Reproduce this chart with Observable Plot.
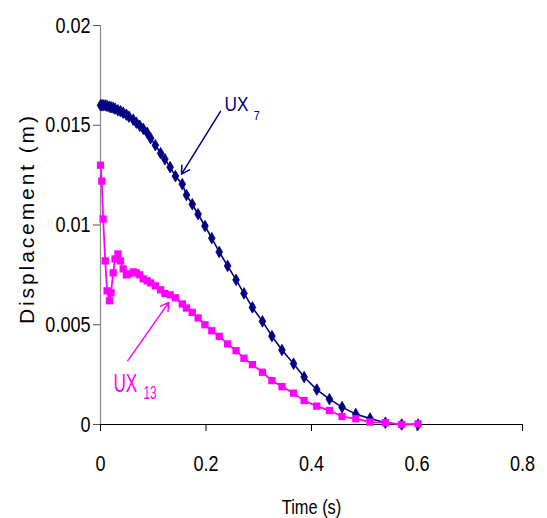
<!DOCTYPE html>
<html>
<head>
<meta charset="utf-8">
<script src="https://cdn.jsdelivr.net/npm/d3@7"></script>
<script src="https://cdn.jsdelivr.net/npm/@observablehq/plot@0.6"></script>
<style>
  html, body { margin: 0; padding: 0; background: white; }
</style>
</head>
<body>
<div id="chart"></div>
<script>
// Time (s), shared by both series
const time = [0, 0.0025, 0.005, 0.009, 0.0125, 0.017, 0.020, 0.024, 0.0275, 0.033,
  0.038, 0.043, 0.049, 0.054, 0.062, 0.068, 0.0745, 0.081, 0.0885, 0.095,
  0.104, 0.114, 0.122, 0.132, 0.142, 0.155, 0.163, 0.174, 0.185, 0.198,
  0.211, 0.225, 0.241, 0.257, 0.272, 0.288, 0.307, 0.325, 0.344, 0.366,
  0.386, 0.41, 0.434, 0.458, 0.484, 0.511, 0.54, 0.571, 0.602];

// UX7 displacement (m)
const ux7 = [0.0160, 0.0160, 0.0160, 0.0160, 0.01597, 0.01593, 0.0159, 0.01588, 0.01583, 0.01575,
  0.0157, 0.01563, 0.01553, 0.01543, 0.01528, 0.01513, 0.01497, 0.01482, 0.01462, 0.01435,
  0.0140, 0.0136, 0.0133, 0.0129, 0.01245, 0.01205, 0.0115, 0.01104, 0.01054, 0.00995,
  0.00934, 0.00865, 0.00795, 0.00725, 0.00657, 0.00587, 0.00517, 0.00443, 0.00373, 0.00305,
  0.00238, 0.00175, 0.00127, 0.00087, 0.00052, 0.0003, 0.00009, 0.0, 0.0];

// UX13 displacement (m)
const ux13 = [0.0130, 0.0122, 0.0103, 0.0082, 0.0067, 0.0062, 0.0066, 0.0076, 0.0083, 0.00855,
  0.0082, 0.0078, 0.0075, 0.00755, 0.00765, 0.0076, 0.0075, 0.0073, 0.0072, 0.0071,
  0.00695, 0.00675, 0.00657, 0.0065, 0.00635, 0.00604, 0.00584, 0.00562, 0.00534, 0.0050,
  0.0047, 0.00442, 0.00404, 0.0037, 0.00332, 0.0030, 0.00262, 0.0022, 0.0019, 0.00157,
  0.0012, 0.00092, 0.0007, 0.0004, 0.00029, 0.00012, 0.00009, 0.0, 0.00003];

const xTicks = [0, 0.2, 0.4, 0.6, 0.8];
const yTicks = [0, 0.005, 0.01, 0.015, 0.02];
const xLabel = "Time (s)";
const yLabel = "Displacement (m)";

// Annotation arrows (data coordinates): [UX7, UX13]
const arrowFromX = [0.2275, 0.0518];
const arrowFromY = [0.0157, 0.0032];
const arrowToX = [0.1536, 0.1295];
const arrowToY = [0.01255, 0.00612];

const navy = "#000080";
const magenta = "#FF00FF";

const s7 = time.map((t, i) => ({t, v: ux7[i]}));
const s13 = time.map((t, i) => ({t, v: ux13[i]}));
const arrows = arrowFromX.map((x, i) => ({x1: x, y1: arrowFromY[i], x2: arrowToX[i], y2: arrowToY[i], c: i === 0 ? navy : magenta}));

const font = "'Liberation Sans', Arial, sans-serif";

const chart = Plot.plot({
  width: 547,
  height: 518,
  marginLeft: 100,
  marginRight: 25,
  marginTop: 25,
  marginBottom: 94,
  style: {fontFamily: font, fontSize: "22px", color: "black", background: "white", overflow: "visible"},
  x: {domain: [0, 0.8]},
  y: {domain: [0, 0.02]},
  marks: [
    Plot.axisX({ticks: xTicks, tickSize: 7, tickPadding: 24, label: null, tickFormat: d => String(d), stroke: "black", fontSize: 22}),
    Plot.axisY({ticks: yTicks, tickSize: 7, tickPadding: 3, label: null, tickFormat: d => String(d), stroke: "#555", fontSize: 22}),
    Plot.ruleX([0], {y1: 0, y2: 0.02, stroke: "#888", strokeWidth: 1.2}),
    Plot.ruleY([0], {stroke: "black", strokeWidth: 1.2}),
    Plot.text([xLabel], {frameAnchor: "bottom", dy: 83, textAnchor: "middle", lineAnchor: "middle", fontSize: 20}),
    Plot.text([yLabel], {frameAnchor: "left", dx: -73, dy: -5, rotate: -90, textAnchor: "middle", lineAnchor: "middle", fontSize: 21}),
    Plot.line(s7, {x: "t", y: "v", stroke: navy, strokeWidth: 1.6}),
    Plot.dot(s7, {x: "t", y: "v", symbol: "diamond", r: 3.5, fill: navy, stroke: navy, strokeWidth: 0.8}),
    Plot.line(s13, {x: "t", y: "v", stroke: magenta, strokeWidth: 1.8}),
    Plot.dot(s13, {x: "t", y: "v", symbol: "square", r: 4.1, fill: magenta}),
    Plot.arrow(arrows, {x1: "x1", y1: "y1", x2: "x2", y2: "y2", stroke: "c", strokeWidth: 1.5, headLength: 9, bend: 0}),
    Plot.text(["UX"], {x: 0.235, y: 0.0157, text: d => d, textAnchor: "start", lineAnchor: "bottom", fill: navy, fontSize: 21}),
    Plot.text(["7"], {x: 0.2905, y: 0.01525, text: d => d, textAnchor: "start", lineAnchor: "bottom", fill: navy, fontSize: 13}),
    Plot.text(["UX"], {x: 0.0246, y: 0.00162, text: d => d, textAnchor: "start", lineAnchor: "bottom", fill: magenta, fontSize: 26}),
    Plot.text(["13"], {x: 0.0815, y: 0.0013, text: d => d, textAnchor: "start", lineAnchor: "bottom", fill: magenta, fontSize: 18})
  ]
});

document.getElementById("chart").appendChild(chart);

// Condense text horizontally to mimic the narrow font of the reference
d3.select(chart).selectAll("text").each(function() {
  const el = this;
  const txt = el.textContent;
  const len = el.getComputedTextLength();
  if (!len) return;
  if (txt === yLabel) {
    el.setAttribute("textLength", 208);
    el.setAttribute("lengthAdjust", "spacing");
    return;
  }
  const fill = el.getAttribute("fill") || (el.parentNode && el.parentNode.getAttribute("fill"));
  let k = 0.82;
  if (fill && fill.toLowerCase() === magenta.toLowerCase()) k = 0.66;
  el.setAttribute("textLength", (len * k).toFixed(2));
  el.setAttribute("lengthAdjust", "spacingAndGlyphs");
});
</script>
</body>
</html>
